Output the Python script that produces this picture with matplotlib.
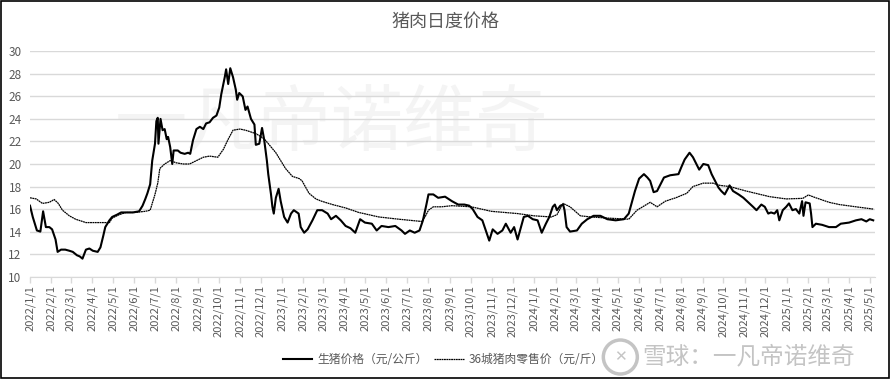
import numpy as np
import pandas as pd
import matplotlib
matplotlib.use("Agg")
import matplotlib.pyplot as plt
import matplotlib.dates as mdates
from matplotlib.patches import Ellipse, Rectangle

plt.rcParams['font.family'] = ['Noto Sans CJK SC', 'DejaVu Sans']

# -----------------------------
# Data
# -----------------------------
hog_dates = [
    "2022-01-01", "2022-01-05", "2022-01-11", "2022-01-16", "2022-01-20", "2022-01-24", "2022-01-29",
    "2022-02-02", "2022-02-07", "2022-02-10", "2022-02-15", "2022-02-21", "2022-02-27",
    "2022-03-04", "2022-03-10", "2022-03-14", "2022-03-18", "2022-03-23", "2022-03-28",
    "2022-04-02", "2022-04-09", "2022-04-13", "2022-04-17", "2022-04-20", "2022-04-26", "2022-04-30",
    "2022-05-07", "2022-05-13", "2022-05-22", "2022-05-30", "2022-06-08", "2022-06-13", "2022-06-17",
    "2022-06-20", "2022-06-24", "2022-06-27", "2022-07-01", "2022-07-03", "2022-07-05", "2022-07-06",
    "2022-07-09", "2022-07-12", "2022-07-15", "2022-07-18", "2022-07-20", "2022-07-23", "2022-07-26",
    "2022-07-28", "2022-08-03", "2022-08-07", "2022-08-13", "2022-08-18", "2022-08-21", "2022-08-25",
    "2022-08-30", "2022-09-04", "2022-09-09", "2022-09-13", "2022-09-18", "2022-09-23", "2022-09-28",
    "2022-10-02", "2022-10-05", "2022-10-10", "2022-10-12", "2022-10-15", "2022-10-18", "2022-10-22",
    "2022-10-26", "2022-10-28", "2022-10-31", "2022-11-05", "2022-11-09", "2022-11-12", "2022-11-17",
    "2022-11-22", "2022-11-24", "2022-11-29", "2022-12-03", "2022-12-06", "2022-12-10", "2022-12-12",
    "2022-12-16", "2022-12-18", "2022-12-20", "2022-12-23", "2022-12-27", "2022-12-30",
    "2023-01-04", "2023-01-09", "2023-01-14", "2023-01-18", "2023-01-25", "2023-01-28",
    "2023-02-02", "2023-02-07", "2023-02-14", "2023-02-21", "2023-02-28", "2023-03-08", "2023-03-13",
    "2023-03-20", "2023-03-27", "2023-04-03", "2023-04-10", "2023-04-17", "2023-04-24", "2023-05-01",
    "2023-05-11", "2023-05-18", "2023-05-25", "2023-06-04", "2023-06-14", "2023-06-23", "2023-06-28",
    "2023-07-05", "2023-07-12", "2023-07-19", "2023-07-24", "2023-07-29", "2023-08-01", "2023-08-08",
    "2023-08-15", "2023-08-25", "2023-09-04", "2023-09-13", "2023-09-22", "2023-09-29", "2023-10-04",
    "2023-10-11", "2023-10-18", "2023-10-23", "2023-10-28", "2023-11-02", "2023-11-09", "2023-11-16",
    "2023-11-21", "2023-11-28", "2023-12-03", "2023-12-08", "2023-12-13", "2023-12-17", "2023-12-23",
    "2023-12-30", "2024-01-06", "2024-01-12", "2024-01-18", "2024-01-23", "2024-01-28", "2024-01-31",
    "2024-02-03", "2024-02-08", "2024-02-12", "2024-02-14", "2024-02-17", "2024-02-22", "2024-03-03",
    "2024-03-10", "2024-03-18", "2024-03-27", "2024-04-06", "2024-04-16", "2024-04-28", "2024-05-10",
    "2024-05-17", "2024-05-21", "2024-05-26", "2024-06-01", "2024-06-08", "2024-06-13", "2024-06-17",
    "2024-06-22", "2024-06-27", "2024-07-02", "2024-07-07", "2024-07-16", "2024-07-28", "2024-08-01",
    "2024-08-06", "2024-08-13", "2024-08-18", "2024-08-23", "2024-08-27", "2024-09-02", "2024-09-09",
    "2024-09-14", "2024-09-19", "2024-09-24", "2024-09-28", "2024-10-03", "2024-10-10", "2024-10-15",
    "2024-10-23", "2024-10-30", "2024-11-06", "2024-11-13", "2024-11-18", "2024-11-25", "2024-11-30",
    "2024-12-05", "2024-12-09", "2024-12-14", "2024-12-18", "2024-12-21", "2024-12-26", "2024-12-31",
    "2025-01-04", "2025-01-09", "2025-01-14", "2025-01-19", "2025-01-23", "2025-01-25", "2025-01-28",
    "2025-02-03", "2025-02-05", "2025-02-07", "2025-02-12", "2025-02-21", "2025-03-03", "2025-03-13",
    "2025-03-20", "2025-04-01", "2025-04-11", "2025-04-19", "2025-04-26", "2025-05-01", "2025-05-06",
]
hog_values = [
    16.3, 15.3, 14.1, 14.0, 15.8, 14.4, 14.4,
    14.2, 13.3, 12.2, 12.4, 12.4, 12.3,
    12.2, 11.9, 11.8, 11.6, 12.4, 12.5,
    12.3, 12.2, 12.6, 13.6, 14.4, 15.0, 15.3,
    15.5, 15.7, 15.7, 15.7, 15.8, 16.3, 16.9,
    17.4, 18.2, 20.3, 21.8, 23.8, 24.1, 21.8,
    24.0, 23.0, 23.1, 22.2, 22.4, 21.5, 20.0,
    21.2, 21.2, 21.0, 20.9, 21.0, 20.9, 22.1,
    23.1, 23.3, 23.1, 23.6, 23.7, 24.1, 24.3,
    25.0, 26.2, 27.7, 28.4, 27.1, 28.5, 27.7,
    26.6, 25.7, 26.3, 26.0, 24.8, 25.1, 24.0,
    23.5, 21.7, 21.8, 23.2, 22.2, 20.3, 19.1,
    17.3, 16.2, 15.6, 17.0, 17.8, 16.7,
    15.3, 14.8, 15.6, 15.9, 15.6, 14.4,
    13.9, 14.2, 15.0, 15.9, 15.9, 15.6, 15.1,
    15.4, 15.0, 14.5, 14.3, 13.9, 15.1, 14.8,
    14.7, 14.1, 14.5, 14.4, 14.5, 14.1, 13.8,
    14.1, 13.9, 14.1, 15.0, 16.4, 17.3, 17.3,
    17.0, 17.1, 16.7, 16.4, 16.4, 16.3, 16.0,
    15.3, 15.0, 14.1, 13.2, 14.2, 13.8, 14.1,
    14.7, 13.9, 14.4, 13.3, 14.4, 15.3, 15.4,
    15.1, 15.0, 13.9, 14.7, 15.3, 16.2, 16.4,
    15.9, 16.3, 16.4, 15.9, 14.4, 14.0, 14.1,
    14.7, 15.1, 15.4, 15.4, 15.1, 15.0, 15.1,
    15.6, 16.5, 17.6, 18.7, 19.1, 18.8, 18.5,
    17.5, 17.6, 18.2, 18.8, 19.0, 19.1, 19.7,
    20.4, 21.0, 20.6, 20.0, 19.5, 20.0, 19.9,
    19.1, 18.5, 17.9, 17.6, 17.3, 18.1, 17.6,
    17.3, 17.0, 16.6, 16.2, 15.9, 16.4, 16.2,
    15.6, 15.7, 15.6, 15.9, 15.0, 15.9, 16.2,
    16.5, 15.9, 16.0, 15.6, 16.7, 15.4, 16.6,
    16.5, 15.6, 14.4, 14.7, 14.6, 14.4, 14.4,
    14.7, 14.8, 15.0, 15.1, 14.9, 15.1, 15.0,
]

retail_dates = [
    "2022-01-01", "2022-01-10", "2022-01-19", "2022-01-29", "2022-02-05", "2022-02-11", "2022-02-17",
    "2022-02-27", "2022-03-08", "2022-03-23", "2022-04-11", "2022-04-21", "2022-04-26", "2022-04-30",
    "2022-05-10", "2022-05-20", "2022-06-02", "2022-06-17", "2022-06-24", "2022-06-27", "2022-07-01",
    "2022-07-05", "2022-07-08", "2022-07-15", "2022-07-23", "2022-08-01", "2022-08-11", "2022-08-20",
    "2022-08-30", "2022-09-09", "2022-09-18", "2022-09-30", "2022-10-08", "2022-10-15", "2022-10-22",
    "2022-11-01", "2022-11-09", "2022-11-24", "2022-12-02", "2022-12-08", "2022-12-23",
    "2023-01-06", "2023-01-16", "2023-01-26", "2023-01-30", "2023-02-09", "2023-02-19", "2023-02-27",
    "2023-03-15", "2023-04-03", "2023-04-22", "2023-05-21", "2023-06-19", "2023-07-22", "2023-07-27",
    "2023-08-01", "2023-08-08", "2023-08-20", "2023-09-04", "2023-10-02", "2023-10-31", "2023-12-08",
    "2024-01-01", "2024-01-26", "2024-02-03", "2024-02-12", "2024-02-22", "2024-03-08", "2024-03-23",
    "2024-04-16", "2024-05-17", "2024-05-29", "2024-06-17", "2024-06-27", "2024-07-09", "2024-07-24",
    "2024-08-09", "2024-08-18", "2024-09-02", "2024-09-16", "2024-09-26", "2024-10-10", "2024-11-03",
    "2024-12-07", "2024-12-31", "2025-01-24", "2025-02-01", "2025-02-12", "2025-03-03", "2025-03-18",
    "2025-04-11", "2025-05-06",
]
retail_values = [
    17.0, 16.9, 16.5, 16.6, 16.85, 16.5, 15.9,
    15.4, 15.1, 14.8, 14.8, 14.8, 14.8, 15.2,
    15.5, 15.7, 15.7, 15.8, 15.9, 16.5, 17.3,
    18.3, 19.6, 20.0, 20.3, 20.1, 20.0, 20.0,
    20.3, 20.6, 20.7, 20.6, 21.3, 22.2, 23.0,
    23.1, 23.0, 22.7, 22.4, 22.1, 21.0,
    19.6, 18.9, 18.7, 18.5, 17.4, 16.9, 16.7,
    16.4, 16.1, 15.7, 15.3, 15.1, 14.9, 15.3,
    15.9, 16.2, 16.2, 16.3, 16.2, 15.8, 15.6,
    15.4, 15.3, 15.5, 16.5, 16.2, 15.4, 15.3,
    15.2, 15.1, 15.9, 16.6, 16.2, 16.7, 17.0,
    17.4, 18.0, 18.3, 18.3, 18.1, 18.0, 17.6,
    17.1, 16.9, 16.95, 17.25, 17.0, 16.6, 16.4,
    16.2, 16.0,
]

y_ticks = [10, 12, 14, 16, 18, 20, 22, 24, 26, 28, 30]
title = "猪肉日度价格"
hog_label = "生猪价格（元/公斤）"
retail_label = "36城猪肉零售价（元/斤）"

hog_x = pd.to_datetime(hog_dates)
retail_x = pd.to_datetime(retail_dates)
month_ticks = pd.date_range("2022-01-01", "2025-05-01", freq="MS")

grey = "#595959"
grid_grey = "#d9d9d9"

# -----------------------------
# Figure
# -----------------------------
fig = plt.figure(figsize=(8.9, 3.79), dpi=100)
ax = fig.add_axes([0.0337, 0.270, 0.949, 0.5946])

# faint background watermark
ax.text(0.357, 0.675, "一凡帝诺维奇", transform=ax.transAxes, ha="center", va="center",
        fontsize=52, color="#f4f4f4", zorder=0)

ax.plot(retail_x, retail_values, color="black", lw=0.9, linestyle=(0, (1.5, 0.4)),
        label=retail_label, zorder=3)
ax.plot(hog_x, hog_values, color="black", lw=1.5, label=hog_label, zorder=4)

ax.set_xlim(pd.Timestamp("2022-01-01"), pd.Timestamp("2025-05-08"))
ax.set_ylim(10, 30)
ax.set_yticks(y_ticks)
ax.yaxis.grid(True, color=grid_grey, lw=1)
ax.set_axisbelow(True)

ax.set_xticks(month_ticks)
ax.xaxis.set_major_formatter(mdates.DateFormatter("%Y/%-m/%-d"))
for lab in ax.get_xticklabels():
    lab.set_rotation(90)

ax.tick_params(axis="x", colors=grid_grey, labelcolor=grey, labelsize=8, length=4, width=1, pad=2)
ax.tick_params(axis="y", length=0, labelcolor=grey, labelsize=8.5, pad=6)

for side in ["left", "right", "top"]:
    ax.spines[side].set_visible(False)
ax.spines["bottom"].set_color(grid_grey)

fig.text(0.5, 0.942, title, ha="center", va="center", fontsize=13, color=grey)

# legend: solid first, dotted second
handles, labels = ax.get_legend_handles_labels()
leg = fig.legend(handles[::-1], labels[::-1], loc="center", bbox_to_anchor=(0.498, 0.052),
                 ncol=2, frameon=False, fontsize=8.5, handlelength=2.5, columnspacing=0.6,
                 handletextpad=0.4)
for t in leg.get_texts():
    t.set_color(grey)

# bottom-right platform mark
fig.text(0.722, 0.058, "雪球：一凡帝诺维奇", ha="left", va="center", fontsize=17, color="#c4c4c4")
fig.add_artist(Ellipse((0.697, 0.058), 34 / 890, 34 / 379, transform=fig.transFigure,
                       fill=False, ec="#c4c4c4", lw=2.5))
fig.text(0.697, 0.058, "✕", ha="center", va="center", fontsize=11, color="#c4c4c4",
         family=["DejaVu Sans"])

# outer frame
fig.add_artist(Rectangle((0.001, 0.002), 0.998, 0.996, transform=fig.transFigure,
                         fill=False, ec="black", lw=1.2))

fig.savefig("out.png", dpi=100)
